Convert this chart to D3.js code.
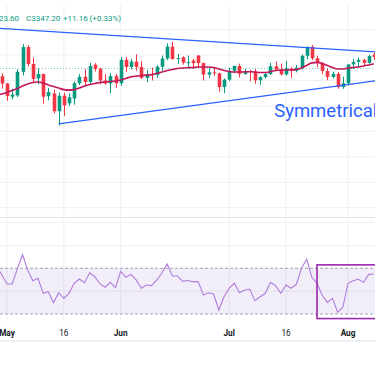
<!DOCTYPE html>
<html><head><meta charset="utf-8">
<script src="https://cdn.jsdelivr.net/npm/d3@7/dist/d3.min.js"></script>
<style>html,body{margin:0;padding:0;background:#fff;overflow:hidden}svg{display:block}</style>
</head><body><div id="chart"></div>
<script>
// ---------- data ----------
const dates = ["2025-04-28","2025-04-29","2025-04-30","2025-05-01","2025-05-02","2025-05-05","2025-05-06","2025-05-07","2025-05-08","2025-05-09",
"2025-05-12","2025-05-13","2025-05-14","2025-05-15","2025-05-16","2025-05-19","2025-05-20","2025-05-21","2025-05-22","2025-05-23",
"2025-05-26","2025-05-27","2025-05-28","2025-05-29","2025-05-30","2025-06-02","2025-06-03","2025-06-04","2025-06-05","2025-06-06",
"2025-06-09","2025-06-10","2025-06-11","2025-06-12","2025-06-13","2025-06-16","2025-06-17","2025-06-18","2025-06-19","2025-06-20",
"2025-06-23","2025-06-24","2025-06-25","2025-06-26","2025-06-27","2025-06-30","2025-07-01","2025-07-02","2025-07-03","2025-07-04",
"2025-07-07","2025-07-08","2025-07-09","2025-07-10","2025-07-11","2025-07-14","2025-07-15","2025-07-16","2025-07-17","2025-07-18",
"2025-07-21","2025-07-22","2025-07-23","2025-07-24","2025-07-25","2025-07-28","2025-07-29","2025-07-30","2025-07-31","2025-08-01",
"2025-08-04","2025-08-05","2025-08-06","2025-08-07","2025-08-08"];
const open = [3319,3344,3317,3288,3236,3241,3334,3431,3365,3308,
3325,3238,3249,3179,3240,3210,3229,3289,3314,3294,
3362,3346,3300,3288,3317,3289,3381,3353,3374,3353,
3310,3325,3322,3354,3386,3433,3384,3391,3368,3378,
3398,3368,3323,3332,3328,3274,3303,3338,3357,3326,
3337,3335,3301,3313,3325,3356,3343,3324,3347,3338,
3350,3397,3432,3387,3368,3337,3314,3326,3274,3289,
3363,3373,3381,3369,3402];
const high = [3352,3353,3328,3290,3268,3344,3443,3438,3390,3348,
3327,3270,3264,3252,3252,3249,3296,3325,3345,3370,
3368,3350,3325,3330,3325,3392,3393,3385,3403,3376,
3340,3350,3360,3398,3446,3452,3404,3395,3398,3385,
3400,3370,3348,3350,3331,3308,3350,3358,3366,3345,
3342,3345,3317,3330,3369,3375,3366,3377,3352,3361,
3402,3433,3439,3397,3373,3345,3334,3334,3315,3363,
3385,3390,3385,3400,3409];
const low = [3268,3300,3268,3220,3225,3235,3320,3354,3290,3285,
3208,3222,3171,3123,3160,3200,3205,3282,3277,3287,
3335,3285,3283,3250,3271,3278,3333,3343,3338,3306,
3293,3300,3310,3338,3380,3382,3365,3362,3352,3345,
3348,3300,3311,3318,3255,3250,3298,3328,3312,3322,
3296,3287,3283,3308,3322,3341,3320,3319,3310,3332,
3343,3383,3380,3351,3324,3301,3309,3268,3267,3280,
3345,3353,3358,3366,3381];
const close = [3344,3317,3288,3239,3245,3334,3431,3365,3306,3326,
3236,3254,3179,3240,3202,3234,3289,3314,3294,3357,
3346,3300,3288,3317,3289,3381,3353,3374,3353,3310,
3325,3322,3354,3386,3433,3384,3388,3370,3372,3368,
3368,3323,3332,3328,3274,3303,3338,3357,3326,3337,
3335,3301,3313,3325,3356,3343,3324,3347,3338,3350,
3397,3432,3387,3368,3337,3314,3326,3274,3289,3363,
3373,3381,3369,3396,3392];
const maValues = [3239,3243,3247,3253,3261,3268,3278,3286,3292,3294,
3290,3282,3276,3270,3264,3262,3264,3270,3278,3284,
3288,3292,3294,3296,3298,3302,3308,3314,3317,3319,
3321,3323,3327,3333,3339,3343,3347,3349,3350,3351,
3353,3353,3353,3351,3345,3339,3335,3333,3333,3334,
3334,3333,3331,3331,3335,3339,3341,3341,3341,3343,
3349,3359,3369,3371,3367,3359,3351,3345,3345,3349,
3351,3353,3357,3361,3365];
const rsiValues = [70,72,64.1,56.3,56.3,69.4,81.9,68.5,59.1,61.2,
48.1,49.5,39.9,48.6,43.7,48.1,56.9,60.6,57.4,66.1,
62.6,56.3,53.4,57.7,53.0,67.4,62.1,64.7,59.8,52.5,
55.4,54.8,59.8,66.1,73.8,63.3,63.3,58.6,59.3,58.3,
58.3,46.6,48.6,47.5,33.5,45.1,52.5,56.9,48.6,51.0,
51.6,41.6,45.1,48.1,57.7,54.8,48.1,55.4,52.5,56.0,
70.0,77.9,62.1,56.9,46.6,40.2,43.7,31.5,35.9,56.9,
59.1,60.4,57.7,64.7,65.0];

const tickDates  = ["2025-05-01","2025-05-16","2025-06-02","2025-07-01","2025-07-16","2025-08-01"];
const tickLabels = ["May","16","Jun","Jul","16","Aug"];
const tickIsMonth = [true,false,true,true,false,true];
const priceGrid = [3500,3400,3300,3200,3100,3000,2900,2800];
const rsiGrid = [110,90,50];
const rsiBands = [70,30];

const upperTrend = [["2025-04-29",3505.7],["2025-08-12",3409.9]];
const lowerTrend = [["2025-05-15",3129],["2025-08-12",3303]];
const patternLabel = ["2025-07-14",3155,"Symmetrical Triangle"];
const rsiBox = ["2025-07-24","2025-08-14",73,26];

const headerParts = ["23.60","C3347.20","+11.16 (+0.33%)"];
const lastClose = 3347.2;

// ---------- layout ----------
const W = 375, H = 366;
const mainTop = 0, mainBottom = 217, rsiBottom = 322, axisBottom = 341;
const UP = "#089981", DOWN = "#f23645";

const d0 = new Date(dates[0] + "T00:00:00Z");
function barIndex(s){
  const d = new Date(s + "T00:00:00Z");
  let n = 0;
  for (let t = new Date(d0); t < d; t.setUTCDate(t.getUTCDate()+1)) {
    const wd = t.getUTCDay();
    if (wd !== 0 && wd !== 6) n++;
  }
  return n;
}

const x = d3.scaleLinear().domain([3, 69]).range([7, 348]);
const y = d3.scaleLinear().domain([2800, 3500]).range([207.7, 29.55]);
const yr = d3.scaleLinear().domain([30, 70]).range([314, 268.3]);

const svg = d3.select("#chart").append("svg").attr("width", W).attr("height", H)
  .style("font-family", "Roboto, 'Noto Sans', sans-serif");
svg.append("rect").attr("width", W).attr("height", H).attr("fill", "#fff");

const defs = svg.append("defs");
defs.append("clipPath").attr("id","mainClip").append("rect").attr("x",0).attr("y",mainTop).attr("width",W).attr("height",mainBottom-mainTop);
defs.append("clipPath").attr("id","rsiClip").append("rect").attr("x",0).attr("y",mainBottom).attr("width",W).attr("height",rsiBottom-mainBottom);

const GRID = "#eef0f3";
// vertical grid
svg.append("g").selectAll("line").data(tickDates).join("line")
  .attr("x1", d => x(barIndex(d))).attr("x2", d => x(barIndex(d)))
  .attr("y1", 5).attr("y2", rsiBottom).attr("stroke", GRID).attr("stroke-width", 1);

// main pane
const main = svg.append("g").attr("clip-path","url(#mainClip)");
main.append("g").selectAll("line").data(priceGrid).join("line")
  .attr("x1",0).attr("x2",W).attr("y1",d=>y(d)).attr("y2",d=>y(d))
  .attr("stroke",GRID).attr("stroke-width",1);

// price line
main.append("line").attr("x1",0).attr("x2",W).attr("y1",y(lastClose)).attr("y2",y(lastClose))
  .attr("stroke",UP).attr("stroke-width",0.8).attr("stroke-dasharray","1,2").attr("opacity",0.7);

const bars = dates.map((d,i)=>({i, o:open[i], h:high[i], l:low[i], c:close[i]}));
const bw = 3.6;
const cg = main.append("g");
cg.selectAll("line.wick").data(bars).join("line").attr("class","wick")
  .attr("x1",d=>Math.round(x(d.i))+0.5).attr("x2",d=>Math.round(x(d.i))+0.5)
  .attr("y1",d=>y(d.h)).attr("y2",d=>y(d.l))
  .attr("stroke",d=>d.c>=d.o?UP:DOWN).attr("stroke-width",1);
cg.selectAll("rect.body").data(bars).join("rect").attr("class","body")
  .attr("x",d=>Math.round(x(d.i))+0.5-bw/2).attr("width",bw)
  .attr("y",d=>y(Math.max(d.o,d.c))).attr("height",d=>Math.max(1,Math.abs(y(d.o)-y(d.c))))
  .attr("fill",d=>d.c>=d.o?UP:DOWN);

// moving average
main.append("path").datum(maValues)
  .attr("d", d3.line().x((d,i)=>x(i)).y(d=>y(d)).curve(d3.curveMonotoneX))
  .attr("fill","none").attr("stroke","#c2185b").attr("stroke-width",1.6);

// trendlines
const tl = d3.line().x(d=>x(barIndex(d[0]))).y(d=>y(d[1]));
[upperTrend, lowerTrend].forEach(t=>{
  main.append("path").attr("d", tl(t)).attr("fill","none").attr("stroke","#2962ff").attr("stroke-width",1.3);
});
main.append("text").attr("x", x(barIndex(patternLabel[0])) - 1.5).attr("y", y(patternLabel[1]))
  .attr("fill","#2962ff").attr("font-size",18.5).text(patternLabel[2]);

// pane separator
svg.append("line").attr("x1",0).attr("x2",W).attr("y1",mainBottom+0.5).attr("y2",mainBottom+0.5)
  .attr("stroke","#e0e3eb").attr("stroke-width",1.2);

// RSI pane
const rp = svg.append("g").attr("clip-path","url(#rsiClip)");
rp.append("g").selectAll("line").data(rsiGrid).join("line")
  .attr("x1",0).attr("x2",W).attr("y1",d=>yr(d)).attr("y2",d=>yr(d))
  .attr("stroke",GRID).attr("stroke-width",1);
rp.append("rect").attr("x",0).attr("width",W).attr("y",yr(rsiBands[0])).attr("height",yr(rsiBands[1])-yr(rsiBands[0]))
  .attr("fill","rgba(126,87,194,0.1)");
rp.append("g").selectAll("line").data(rsiBands).join("line")
  .attr("x1",0).attr("x2",W).attr("y1",d=>yr(d)).attr("y2",d=>yr(d))
  .attr("stroke","#a3a6af").attr("stroke-width",1).attr("stroke-dasharray","3,2");
rp.append("path").datum(rsiValues)
  .attr("d", d3.line().x((d,i)=>x(i)).y(d=>yr(d)))
  .attr("fill","none").attr("stroke","#b07cdc").attr("stroke-width",1.1);
rp.append("rect")
  .attr("x", x(barIndex(rsiBox[0]))).attr("y", yr(rsiBox[2]))
  .attr("width", x(barIndex(rsiBox[1])) - x(barIndex(rsiBox[0])))
  .attr("height", yr(rsiBox[3]) - yr(rsiBox[2]))
  .attr("fill","none").attr("stroke","#9c27b0").attr("stroke-width",1.6);

// time axis
svg.append("g").selectAll("text").data(tickDates).join("text")
  .attr("x", d=>x(barIndex(d))).attr("y", 336).attr("text-anchor","middle")
  .attr("font-size",8.2).attr("fill","#131722")
  .attr("font-weight",(d,i)=>tickIsMonth[i]?"bold":"normal")
  .text((d,i)=>tickLabels[i]);
svg.append("line").attr("x1",0).attr("x2",W).attr("y1",axisBottom).attr("y2",axisBottom)
  .attr("stroke","#e9ebef").attr("stroke-width",1.5);

// header
const hx = [-1, 26, 63];
svg.append("g").selectAll("text").data(headerParts).join("text")
  .attr("x",(d,i)=>hx[i]).attr("y",20.5).attr("font-size",8).attr("fill",UP).text(d=>d);
</script>
</body></html>
